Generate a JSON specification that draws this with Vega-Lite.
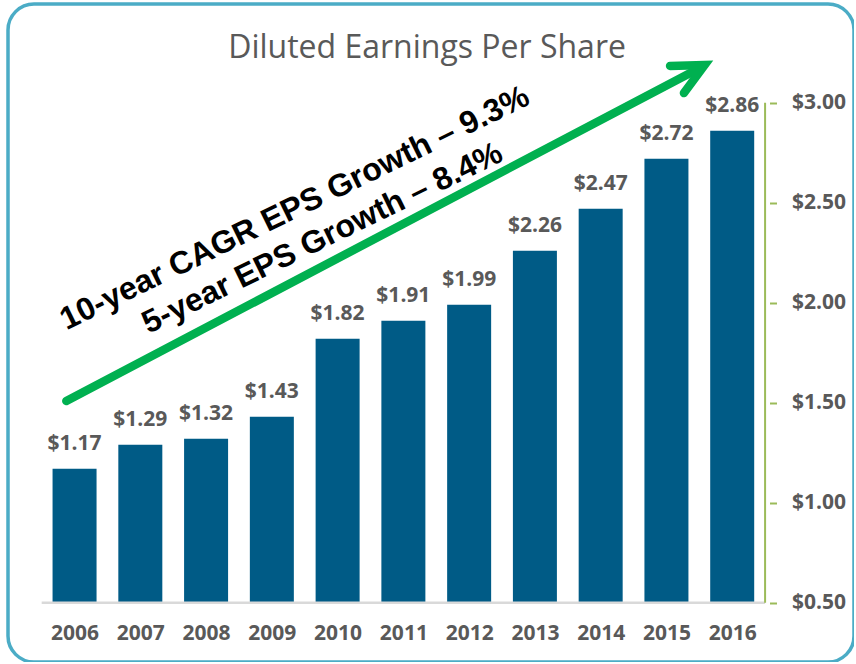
{
  "$schema": "https://vega.github.io/schema/vega-lite/v6.json",
  "width": 846,
  "height": 658,
  "autosize": {"type": "none"},
  "padding": {"left": 8, "top": 4, "right": 0, "bottom": 0},
  "background": "white",
  "config": {
    "view": {"stroke": "#4BACC6", "strokeWidth": 3.5, "cornerRadius": 26},
    "axis": {"labelFont": "Open Sans", "labelFontWeight": "bold", "labelFontSize": 21, "labelColor": "#595959", "grid": false, "title": null}
  },
  "data": {"values": [
    {"year": 2006, "eps": 1.17},
    {"year": 2007, "eps": 1.29},
    {"year": 2008, "eps": 1.32},
    {"year": 2009, "eps": 1.43},
    {"year": 2010, "eps": 1.82},
    {"year": 2011, "eps": 1.91},
    {"year": 2012, "eps": 1.99},
    {"year": 2013, "eps": 2.26},
    {"year": 2014, "eps": 2.47},
    {"year": 2015, "eps": 2.72},
    {"year": 2016, "eps": 2.86}
  ]},
  "layer": [
    {
      "mark": {"type": "bar", "width": 44, "color": "#005B86"},
      "encoding": {
        "x": {"field": "year", "type": "quantitative", "scale": {"domain": [2005.064, 2017.776], "nice": false, "zero": false},
          "axis": {"orient": "bottom", "offset": -59, "values": [2006, 2007, 2008, 2009, 2010, 2011, 2012, 2013, 2014, 2015, 2016], "format": "d", "ticks": false, "domain": false, "labelPadding": 19, "labelFlush": false, "labelOverlap": false}},
        "y": {"field": "eps", "type": "quantitative", "scale": {"domain": [0.2035, 3.4935], "nice": false, "zero": false},
          "axis": {"orient": "right", "offset": -84.5, "values": [0.5, 1, 1.5, 2, 2.5, 3], "format": "$.2f", "domain": false, "ticks": true, "tickColor": "#9BBB59", "tickWidth": 2, "tickSize": 7, "labelPadding": 15, "labelAlign": "left", "labelBaseline": "middle"}},
        "y2": {"datum": 0.5}
      }
    },
    {
      "mark": {"type": "text", "font": "Open Sans", "fontWeight": "bold", "fontSize": 21, "color": "#595959", "align": "center", "baseline": "alphabetic", "dy": -19},
      "encoding": {
        "x": {"field": "year", "type": "quantitative", "scale": {"domain": [2005.064, 2017.776], "nice": false, "zero": false}},
        "y": {"field": "eps", "type": "quantitative", "scale": {"domain": [0.2035, 3.4935], "nice": false, "zero": false}},
        "text": {"field": "eps", "type": "quantitative", "format": "$.2f"}
      }
    },
    {
      "data": {"values": [{}]},
      "mark": {"type": "rule", "color": "#D9D9D9", "strokeWidth": 2.5},
      "encoding": {
        "x": {"datum": 2005.5, "type": "quantitative", "scale": {"domain": [2005.064, 2017.776], "nice": false, "zero": false}},
        "x2": {"datum": 2016.5},
        "y": {"datum": 0.5, "type": "quantitative", "scale": {"domain": [0.2035, 3.4935], "nice": false, "zero": false}}
      }
    },
    {
      "data": {"values": [{}]},
      "mark": {"type": "rule", "color": "#9BBB59", "strokeWidth": 2},
      "encoding": {
        "x": {"datum": 2016.5, "type": "quantitative", "scale": {"domain": [2005.064, 2017.776], "nice": false, "zero": false}},
        "y": {"datum": 0.5, "type": "quantitative", "scale": {"domain": [0.2035, 3.4935], "nice": false, "zero": false}},
        "y2": {"datum": 3.0}
      }
    },
    {
      "data": {"values": [
        {"part": "shaft", "ord": 1, "x": 2005.875, "y": 1.5085},
        {"part": "shaft", "ord": 2, "x": 2015.507, "y": 3.1735},
        {"part": "head", "ord": 1, "x": 2015.055, "y": 3.1835},
        {"part": "head", "ord": 2, "x": 2015.581, "y": 3.1885},
        {"part": "head", "ord": 3, "x": 2015.266, "y": 3.0485}
      ]},
      "mark": {"type": "line", "color": "#00B050", "strokeWidth": 8.5, "strokeCap": "round", "strokeJoin": "miter"},
      "encoding": {
        "x": {"field": "x", "type": "quantitative", "scale": {"domain": [2005.064, 2017.776], "nice": false, "zero": false}},
        "y": {"field": "y", "type": "quantitative", "scale": {"domain": [0.2035, 3.4935], "nice": false, "zero": false}},
        "detail": {"field": "part"},
        "order": {"field": "ord"}
      }
    },
    {
      "data": {"values": [{}]},
      "mark": {"type": "text", "text": "Diluted Earnings Per Share", "font": "Open Sans", "fontSize": 32, "color": "#595959", "align": "center", "baseline": "alphabetic"},
      "encoding": {
        "x": {"datum": 2011.36, "type": "quantitative", "scale": {"domain": [2005.064, 2017.776], "nice": false, "zero": false}},
        "y": {"datum": 3.225, "type": "quantitative", "scale": {"domain": [0.2035, 3.4935], "nice": false, "zero": false}}
      }
    },
    {
      "data": {"values": [{}]},
      "mark": {"type": "text", "text": "10-year CAGR EPS Growth – 9.3%", "font": "Liberation Sans", "fontWeight": "bold", "fontSize": 32, "color": "#000000", "align": "center", "baseline": "middle", "angle": 334},
      "encoding": {
        "x": {"datum": 2009.346, "type": "quantitative", "scale": {"domain": [2005.064, 2017.776], "nice": false, "zero": false}},
        "y": {"datum": 2.4735, "type": "quantitative", "scale": {"domain": [0.2035, 3.4935], "nice": false, "zero": false}}
      }
    },
    {
      "data": {"values": [{}]},
      "mark": {"type": "text", "text": "5-year EPS Growth – 8.4%", "font": "Liberation Sans", "fontWeight": "bold", "fontSize": 32, "color": "#000000", "align": "center", "baseline": "middle", "angle": 334},
      "encoding": {
        "x": {"datum": 2009.767, "type": "quantitative", "scale": {"domain": [2005.064, 2017.776], "nice": false, "zero": false}},
        "y": {"datum": 2.3235, "type": "quantitative", "scale": {"domain": [0.2035, 3.4935], "nice": false, "zero": false}}
      }
    }
  ]
}
